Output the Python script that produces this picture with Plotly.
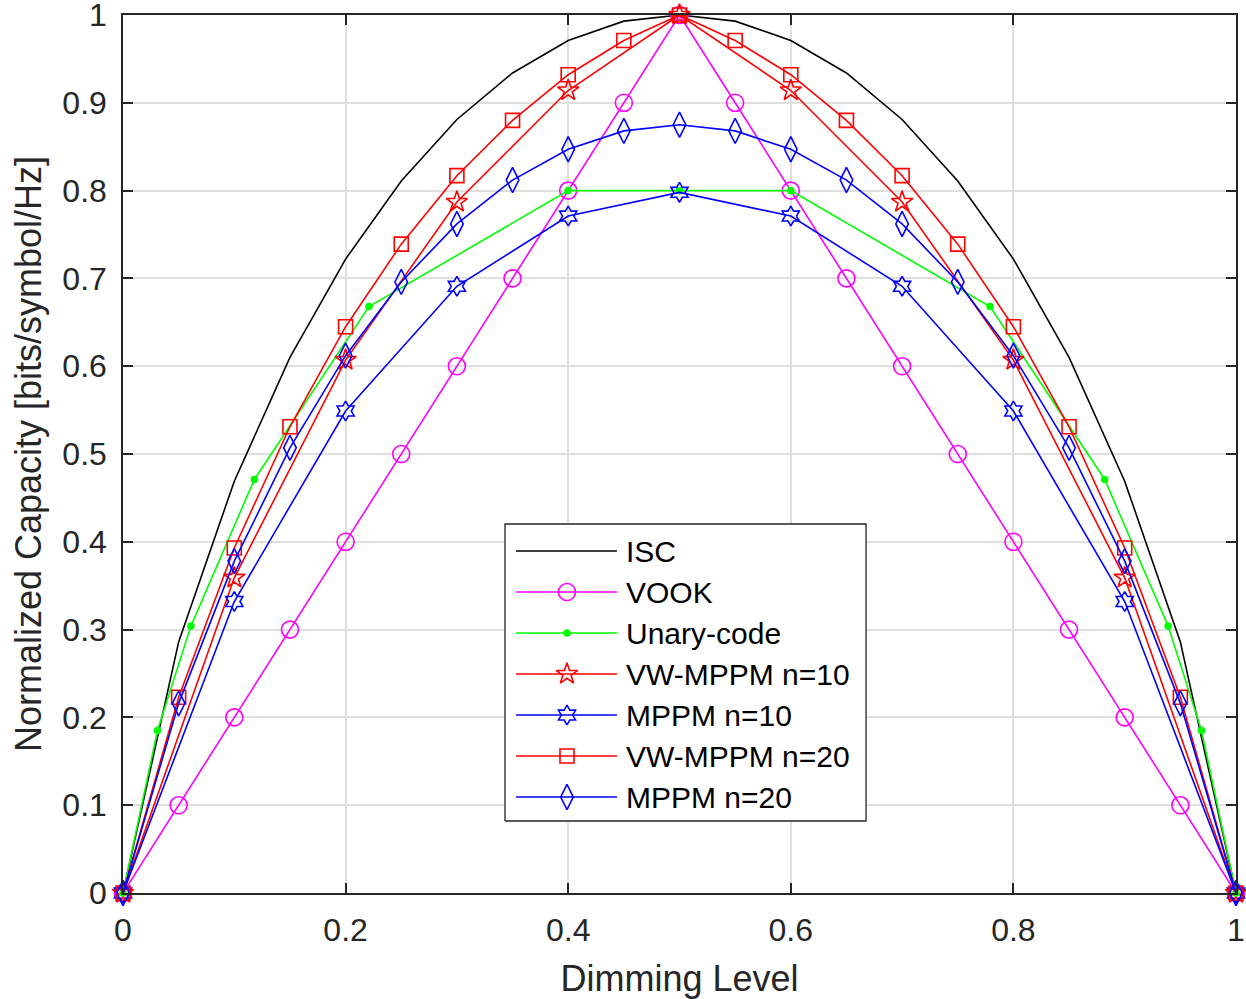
import plotly.graph_objects as go

# ---- data -------------------------------------------------------------
dim_05 = [0, 0.05, 0.1, 0.15, 0.2, 0.25, 0.3, 0.35, 0.4, 0.45, 0.5,
          0.55, 0.6, 0.65, 0.7, 0.75, 0.8, 0.85, 0.9, 0.95, 1.0]
dim_10 = [0, 0.1, 0.2, 0.3, 0.4, 0.5, 0.6, 0.7, 0.8, 0.9, 1.0]

isc = [0, 0.286, 0.469, 0.610, 0.722, 0.811, 0.881, 0.934, 0.971, 0.993, 1.0,
       0.993, 0.971, 0.934, 0.881, 0.811, 0.722, 0.610, 0.469, 0.286, 0]
vook = [0, 0.1, 0.2, 0.3, 0.4, 0.5, 0.6, 0.7, 0.8, 0.9, 1.0,
        0.9, 0.8, 0.7, 0.6, 0.5, 0.4, 0.3, 0.2, 0.1, 0]

unary_x = [0, 0.031, 0.061, 0.118, 0.221, 0.4, 0.5, 0.6, 0.779, 0.882, 0.939, 0.969, 1.0]
unary_y = [0, 0.185, 0.304, 0.471, 0.668, 0.8, 0.8, 0.8, 0.668, 0.471, 0.304, 0.185, 0]

vw_mppm10 = [0, 0.359, 0.607, 0.787, 0.914, 1.0, 0.914, 0.787, 0.607, 0.359, 0]
mppm10 = [0, 0.332, 0.549, 0.691, 0.771, 0.798, 0.771, 0.691, 0.549, 0.332, 0]

vw_mppm20 = [0, 0.223, 0.393, 0.531, 0.645, 0.739, 0.817, 0.880, 0.932, 0.971, 1.0,
             0.971, 0.932, 0.880, 0.817, 0.739, 0.645, 0.531, 0.393, 0.223, 0]
mppm20 = [0, 0.216, 0.378, 0.507, 0.612, 0.696, 0.762, 0.812, 0.847, 0.868, 0.875,
          0.868, 0.847, 0.812, 0.762, 0.696, 0.612, 0.507, 0.378, 0.216, 0]

tick_vals_x = [0, 0.2, 0.4, 0.6, 0.8, 1]
tick_text_x = ["0", "0.2", "0.4", "0.6", "0.8", "1"]
tick_vals_y = [0, 0.1, 0.2, 0.3, 0.4, 0.5, 0.6, 0.7, 0.8, 0.9, 1]
tick_text_y = ["0", "0.1", "0.2", "0.3", "0.4", "0.5", "0.6", "0.7", "0.8", "0.9", "1"]

FONT = "Liberation Sans, Arial, sans-serif"

# ---- series styles ------------------------------------------------------
LW = 1.6
series = [
    dict(name="ISC", x=dim_05, y=isc, color="#000000", symbol=None, size=0),
    dict(name="VOOK", x=dim_05, y=vook, color="#FF00FF", symbol="circle-open", size=17),
    dict(name="Unary-code", x=unary_x, y=unary_y, color="#00FF00", symbol="circle", size=6),
    dict(name="VW-MPPM n=10", x=dim_10, y=vw_mppm10, color="#FF0000", symbol="star-open", size=16),
    dict(name="MPPM n=10", x=dim_10, y=mppm10, color="#0000FF", symbol="hexagram-open", size=15),
    dict(name="VW-MPPM n=20", x=dim_05, y=vw_mppm20, color="#FF0000", symbol="square-open", size=14),
    dict(name="MPPM n=20", x=dim_05, y=mppm20, color="#0000FF", symbol="diamond-tall-open", size=18),
]


def marker_style(s):
    return dict(symbol=s["symbol"], size=s["size"], color=s["color"],
                line=dict(color=s["color"], width=1.6))


fig = go.Figure()
for s in series:
    if s["symbol"] is None:
        fig.add_trace(go.Scatter(x=s["x"], y=s["y"], mode="lines",
                                 line=dict(color=s["color"], width=LW),
                                 showlegend=False, cliponaxis=False))
    else:
        fig.add_trace(go.Scatter(x=s["x"], y=s["y"], mode="lines+markers",
                                 line=dict(color=s["color"], width=LW),
                                 marker=marker_style(s),
                                 showlegend=False, cliponaxis=False))

# ---- legend, drawn on an overlay axis whose range equals paper coords -----
box_x0, box_x1 = 0.3432, 0.6676
box_y0, box_y1 = 0.082, 0.4203
line_x0, line_x1, mark_x, text_x = 0.3531, 0.4438, 0.3989, 0.4501
row_top, row_step = 0.3895, 0.0467

fig.add_trace(go.Scatter(x=[box_x0, box_x1, box_x1, box_x0, box_x0],
                         y=[box_y0, box_y0, box_y1, box_y1, box_y0],
                         xaxis="x2", yaxis="y2", mode="lines", fill="toself",
                         fillcolor="white", line=dict(color="#262626", width=1.3),
                         showlegend=False, hoverinfo="skip"))

for i, s in enumerate(series):
    yy = row_top - i * row_step
    fig.add_trace(go.Scatter(x=[line_x0, line_x1], y=[yy, yy], xaxis="x2", yaxis="y2",
                             mode="lines", line=dict(color=s["color"], width=LW),
                             showlegend=False, hoverinfo="skip"))
    if s["symbol"] is not None:
        fig.add_trace(go.Scatter(x=[mark_x], y=[yy], xaxis="x2", yaxis="y2", mode="markers",
                                 marker=marker_style(s), showlegend=False, hoverinfo="skip"))
    fig.add_annotation(x=text_x, y=yy, xref="paper", yref="paper",
                       text=s["name"], showarrow=False, xanchor="left", yanchor="middle",
                       font=dict(family=FONT, size=30, color="#000000"))

axis_common = dict(
    showline=True, mirror="ticks", linecolor="#262626", linewidth=1.5,
    ticks="inside", ticklen=10, tickwidth=1.5, tickcolor="#262626",
    showgrid=True, gridcolor="#DFDFDF", gridwidth=1.5, zeroline=False,
    automargin=False, ticklabeloverflow="allow",
    tickfont=dict(family=FONT, size=32, color="#262626"),
)

fig.update_layout(
    width=1246, height=999,
    margin=dict(l=123, r=10, t=15, b=106),
    plot_bgcolor="white", paper_bgcolor="white",
    showlegend=False,
    xaxis=dict(range=[0, 1], tickvals=tick_vals_x, ticktext=tick_text_x,
               title=dict(text="Dimming Level", standoff=19,
                          font=dict(family=FONT, size=36, color="#262626")),
               ticklabelstandoff=8, **axis_common),
    yaxis=dict(range=[0, 1], tickvals=tick_vals_y, ticktext=tick_text_y,
               title=dict(text="Normalized Capacity [bits/symbol/Hz]", standoff=10,
                          font=dict(family=FONT, size=36, color="#262626")),
               ticklabelstandoff=8, **axis_common),
    xaxis2=dict(overlaying="x", range=[0, 1], visible=False, fixedrange=True),
    yaxis2=dict(overlaying="y", range=[0, 1], visible=False, fixedrange=True),
)

fig.write_html("out.html")
